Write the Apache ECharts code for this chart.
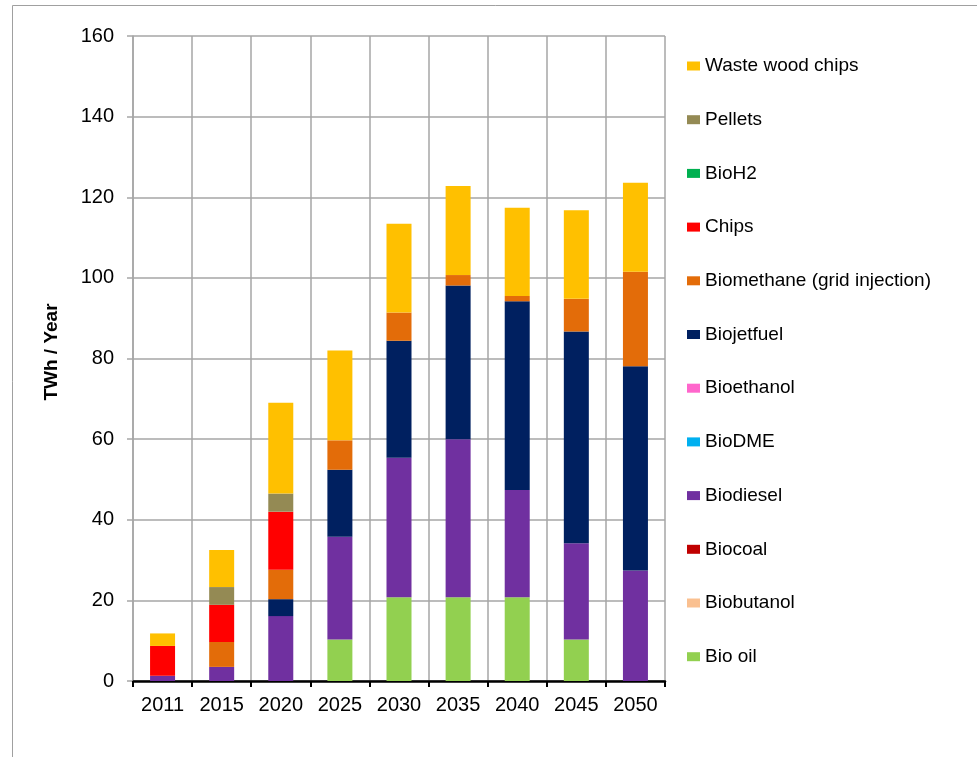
<!DOCTYPE html>
<html>
<head>
<meta charset="utf-8">
<script src="https://cdn.jsdelivr.net/npm/echarts@6/dist/echarts.min.js"></script>
<style>
    html, body { margin: 0; padding: 0; background: #fff; }
    #chart { width: 977px; height: 757px; }
</style>
</head>
<body>
<div id="chart"></div>
<script>
// years on the x axis
const years = ['2011', '2015', '2020', '2025', '2030', '2035', '2040', '2045', '2050']
const yTicks = [0, 20, 40, 60, 80, 100, 120, 140, 160]

// TWh / year (stack order bottom -> top)
const bioOil = [0, 0, 0, 10.3, 20.8, 20.8, 20.8, 10.3, 0]
const biobutanol = [0, 0, 0, 0, 0, 0, 0, 0, 0]
const biocoal = [0, 0, 0, 0, 0, 0, 0, 0, 0]
const biodiesel = [1.3, 3.5, 16.1, 25.5, 34.6, 39.2, 26.6, 23.9, 27.4]
const bioDME = [0, 0, 0, 0, 0, 0, 0, 0, 0]
const bioethanol = [0, 0, 0, 0, 0, 0, 0, 0, 0]
const biojetfuel = [0, 0, 4.2, 16.6, 29.0, 38.1, 46.8, 52.5, 50.7]
const biomethane = [0, 6.2, 7.3, 7.3, 7.0, 2.6, 1.3, 8.1, 23.4]
const chips = [7.4, 9.2, 14.4, 0, 0, 0, 0, 0, 0]
const bioH2 = [0, 0, 0, 0, 0, 0, 0, 0, 0]
const pellets = [0, 4.4, 4.5, 0, 0, 0, 0, 0, 0]
const wasteWoodChips = [3.1, 9.2, 22.5, 22.3, 22.0, 22.1, 21.9, 22.0, 22.1]

const seriesDefs = [
    { name: 'Bio oil', data: bioOil, color: '#92D050' },
    { name: 'Biobutanol', data: biobutanol, color: '#FAC090' },
    { name: 'Biocoal', data: biocoal, color: '#C00000' },
    { name: 'Biodiesel', data: biodiesel, color: '#7030A0' },
    { name: 'BioDME', data: bioDME, color: '#00B0F0' },
    { name: 'Bioethanol', data: bioethanol, color: '#FF66CC' },
    { name: 'Biojetfuel', data: biojetfuel, color: '#002060' },
    { name: 'Biomethane (grid injection)', data: biomethane, color: '#E36C09' },
    { name: 'Chips', data: chips, color: '#FF0000' },
    { name: 'BioH2', data: bioH2, color: '#00B050' },
    { name: 'Pellets', data: pellets, color: '#948A54' },
    { name: 'Waste wood chips', data: wasteWoodChips, color: '#FFC000' }
]

const font = '"Liberation Sans", Arial, sans-serif'
const gridColor = '#a6a6a6'

const chart = echarts.init(document.getElementById('chart'), null, { renderer: 'canvas' })

chart.setOption({
    animation: false,
    backgroundColor: '#fff',
    textStyle: { fontFamily: font, color: '#000' },
    graphic: [
        {
            type: 'rect',
            shape: { x: 12.5, y: 5.5, width: 1100, height: 900 },
            style: { fill: 'none', stroke: '#a0a0a0', lineWidth: 1 },
            silent: true,
            z: -10
        },
        {
            // y axis title
            type: 'text',
            x: 52,
            y: 352,
            rotation: Math.PI / 2,
            style: {
                text: 'TWh / Year',
                fontFamily: font,
                fontSize: 19,
                fontWeight: 'bold',
                fill: '#000',
                align: 'center',
                verticalAlign: 'middle'
            },
            silent: true
        }
    ],
    grid: {
        left: 133,
        right: 312,
        top: 36,
        bottom: 76,
        containLabel: false
    },
    legend: {
        orient: 'vertical',
        left: 682,
        top: 51,
        itemWidth: 13,
        itemHeight: 9,
        itemGap: 33.7,
        icon: 'rect',
        data: seriesDefs.map(s => s.name).reverse(),
        textStyle: { fontFamily: font, fontSize: 19, color: '#000', lineHeight: 20 }
    },
    xAxis: {
        type: 'category',
        data: years,
        axisLine: { show: true, lineStyle: { color: '#000', width: 2.5 } },
        axisTick: { show: true, length: 6, lineStyle: { color: '#000', width: 2 } },
        axisLabel: { fontFamily: font, fontSize: 20, color: '#000', margin: 14 },
        splitLine: { show: true, lineStyle: { color: gridColor, width: 1.5 } }
    },
    yAxis: {
        type: 'value',
        min: yTicks[0],
        max: yTicks[yTicks.length - 1],
        interval: 20,
        axisLine: { show: true, lineStyle: { color: gridColor, width: 1.5 } },
        axisTick: { show: true, length: 6, lineStyle: { color: gridColor, width: 1.5 } },
        axisLabel: { fontFamily: font, fontSize: 20, color: '#000', margin: 19 },
        splitLine: { show: true, lineStyle: { color: gridColor, width: 1.5 } }
    },
    series: seriesDefs.map(s => ({
        type: 'bar',
        name: s.name,
        stack: 'total',
        barWidth: 25,
        data: s.data,
        itemStyle: { color: s.color },
        emphasis: { disabled: true }
    }))
})

window.addEventListener('resize', function () {
    chart.resize()
})
</script>
</body>
</html>
